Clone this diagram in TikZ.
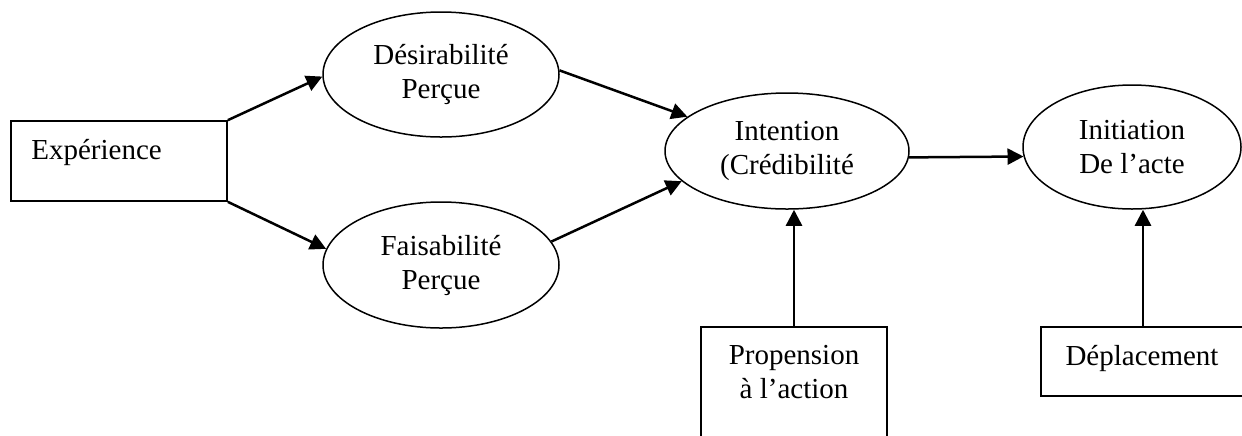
\documentclass[tikz,border=0pt]{standalone}
\usepackage{fontspec}
\setmainfont{Liberation Serif}
\usetikzlibrary{arrows.meta,shapes.geometric}

\tikzset{
  txt/.style={font=\fontsize{14.5}{17}\selectfont},
  oval/.style={ellipse, draw, line width=0.75pt, inner sep=0pt, align=center, txt},
  boxnode/.style={rectangle, draw, line width=0.85pt, inner sep=0pt},
  lbl/.style={inner sep=0pt, anchor=base, txt},
  link/.style={line width=1.25pt, -{Triangle[length=8pt,width=8pt]}}
}

\begin{document}
\begin{tikzpicture}[x=0.5pt, y=-0.5pt]
  \useasboundingbox (0,0) rectangle (1242,435);
  \clip (0,0) rectangle (1242,435);

  % rectangles (text sits near their top edge)
  \node[boxnode, minimum width=108pt, minimum height=40pt] (exp) at (119,161) {};
  \node[lbl, anchor=base west] (expt) at (31,159) {Expérience};

  \node[boxnode, minimum width=93pt, minimum height=61.5pt] (prop) at (794,388.5) {};
  \node[lbl] (propt1) at (794,364) {Propension};
  \node[lbl] (propt2) at (794,398) {à l’action};

  \node[boxnode, minimum width=102pt, minimum height=34.5pt] (dep) at (1143,361.5) {};
  \node[lbl] (dept) at (1142,365) {Déplacement};

  % ellipses
  \node[oval, minimum width=118pt, minimum height=62.5pt] (des) at (441,74.5) {Désirabilité\\Perçue};
  \node[oval, minimum width=118pt, minimum height=63pt] (fai) at (441,265) {Faisabilité\\Perçue};
  \node[oval, minimum width=122pt, minimum height=58pt] (int) at (787,151) {Intention\\(Crédibilité};
  \node[oval, minimum width=109pt, minimum height=62pt] (ini) at (1132,147) {Initiation\\De l’acte};

  % connectors
  \draw[link] (exp.north east) -- (des.181);
  \draw[link] (exp.south east) -- (fai.172);
  \draw[link] (des.2) -- (int.161);
  \draw[link] (fai.12) -- (int.196);
  \draw[link] (int.-3) -- (ini.185);
  \draw[link] (prop.north) -- (prop.north |- int.south);
  \draw[link] (dep.north) -- (dep.north |- ini.south);
\end{tikzpicture}
\end{document}
